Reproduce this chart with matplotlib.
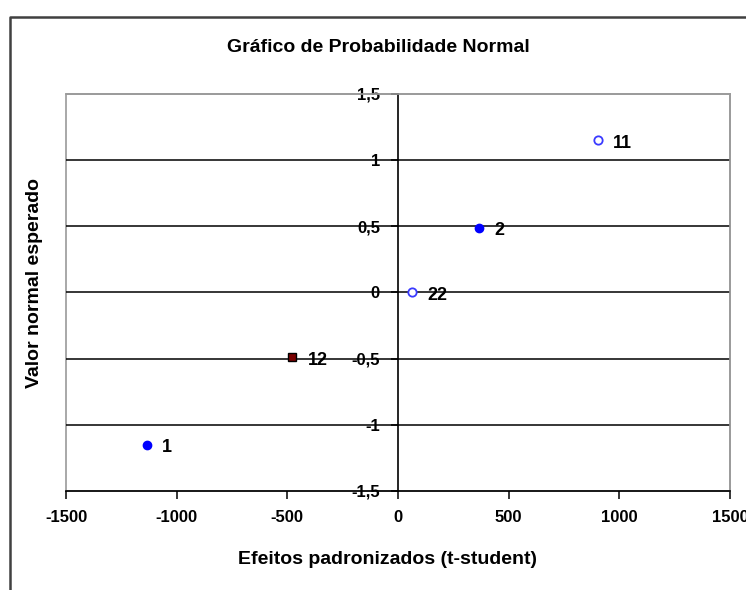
import matplotlib
matplotlib.use("Agg")
import matplotlib.pyplot as plt
from matplotlib.lines import Line2D
from matplotlib.patches import Rectangle

plt.rcParams['font.family'] = ['Liberation Sans', 'DejaVu Sans']
plt.rcParams['font.weight'] = 'bold'

# effects: standardized value vs expected normal score
effect_ids = ["1", "12", "22", "2", "11"]
effect_x = [-1135, -478, 63, 366, 904]
normal_y = [-1.15, -0.49, 0.0, 0.49, 1.15]
marker_kind = ["filled", "square", "open", "filled", "open"]

x_ticks = [-1500, -1000, -500, 0, 500, 1000, 1500]
y_ticks = [-1.5, -1.0, -0.5, 0.0, 0.5, 1.0, 1.5]
y_tick_labels = ["-1,5", "-1", "-0,5", "0", "0,5", "1", "1,5"]

W, H = 746, 590
fig = plt.figure(figsize=(W / 100, H / 100), dpi=100)
ax = fig.add_axes([66 / W, 1 - 491 / H, (730 - 66) / W, (491 - 94) / H])

ax.set_xlim(-1500, 1500)
ax.set_ylim(-1.5, 1.5)

# horizontal grid lines
for yv in y_ticks[1:-1]:
    ax.axhline(yv, color='black', lw=1.1, zorder=1)

# y axis runs through x = 0
ax.spines['left'].set_position(('data', 0))
ax.spines['left'].set_linewidth(1.2)
ax.spines['bottom'].set_linewidth(1.2)
for s in ['top', 'right']:
    ax.spines[s].set_color('#9a9a9a')
    ax.spines[s].set_linewidth(1.2)
ax.add_patch(Rectangle((0, 0), 1, 1, transform=ax.transAxes, fill=False,
                       edgecolor='#9a9a9a', lw=1.2, zorder=0, clip_on=False))

ax.set_xticks(x_ticks)
ax.set_xticklabels([str(v) for v in x_ticks], fontsize=12, fontweight='bold')
ax.set_yticks(y_ticks)
ax.set_yticklabels(y_tick_labels, fontsize=12, fontweight='bold')
ax.tick_params(axis='x', direction='out', length=6, width=1.1, pad=8)
ax.tick_params(axis='y', direction='out', length=5, width=1.1, pad=8)

for name, x, y, kind in zip(effect_ids, effect_x, normal_y, marker_kind):
    if kind == "filled":
        ax.plot(x, y, 'o', ms=6, color='#0000ff', zorder=3)
    elif kind == "open":
        ax.plot(x, y, 'o', ms=6, mfc='white', mec='#3a3aff', mew=1.3, zorder=3)
    else:
        ax.plot(x, y, 's', ms=6, mfc='#7a0000', mec='black', mew=1.0, zorder=3)
    ax.annotate(name, (x, y), xytext=(11, -2), textcoords='offset points',
                va='center', ha='left', fontsize=13, fontweight='bold', zorder=4)

ax.set_xlabel("Efeitos padronizados (t-student)", fontsize=14, fontweight='bold',
              va='center')
ax.xaxis.set_label_coords((388 - 66) / 664, (491 - 560) / 397)
fig.text(35 / W, 1 - 283 / H, "Valor normal esperado", rotation=90,
         ha='center', va='center', fontsize=14, fontweight='bold')
fig.text(378 / W, 1 - 47 / H, "Gráfico de Probabilidade Normal",
         ha='center', va='center', fontsize=14, fontweight='bold')

# outer chart frame
fig.add_artist(Line2D([10 / W, 10 / W, 1.0], [0.0, 1 - 17 / H, 1 - 17 / H],
                      transform=fig.transFigure, color='#404040', lw=1.8))

fig.savefig("out.png", dpi=100)
